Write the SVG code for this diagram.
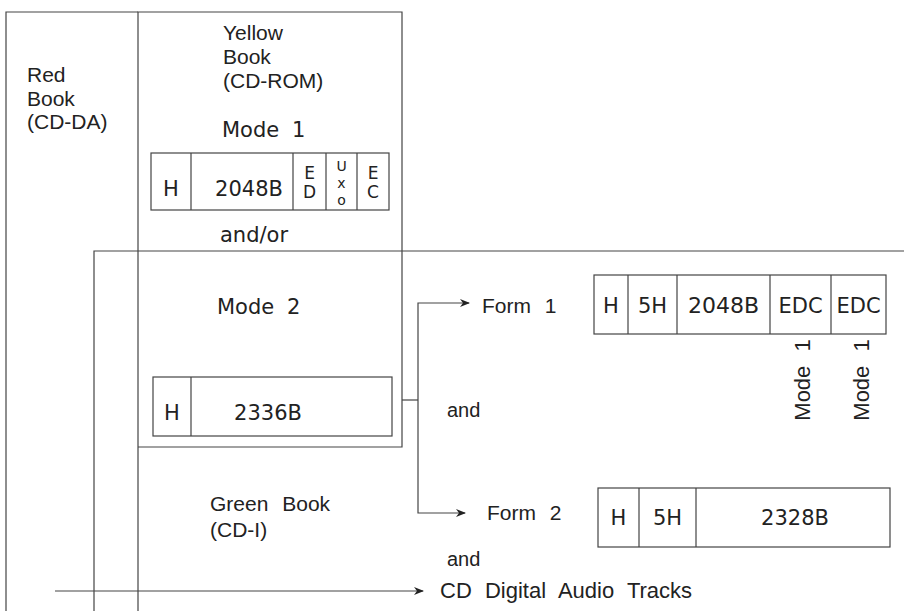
<svg xmlns="http://www.w3.org/2000/svg" width="904" height="611" viewBox="0 0 904 611">
<style>
  .ln{stroke:#444;stroke-width:1.2;fill:none}
  .bx{stroke:#444;stroke-width:1.2;fill:none}
  .h{font-family:"Liberation Sans",Arial,sans-serif;fill:#222}
  .a{font-family:"DejaVu Sans","Liberation Sans",sans-serif;fill:#222}
</style>
<defs>
  <marker id="arr" markerWidth="10" markerHeight="8" refX="9" refY="4" orient="auto" markerUnits="userSpaceOnUse">
    <path d="M0,0 L10,4 L0,8 L3,4 z" fill="#222"/>
  </marker>
</defs>
<rect width="904" height="611" fill="#fff"/>

<g id="red-book">
  <path class="ln" d="M6,611 V12 H138"/>
  <text class="h" font-size="21" x="27" y="82">Red</text>
  <text class="h" font-size="21" x="27" y="106">Book</text>
  <text class="h" font-size="21" x="27" y="129">(CD-DA)</text>
</g>

<g id="yellow-book">
  <path class="ln" d="M138,611 V12 H402 V447 H138"/>
  <text class="h" font-size="21" x="223" y="40">Yellow</text>
  <text class="h" font-size="21" x="223" y="64">Book</text>
  <text class="h" font-size="21" x="223" y="88">(CD-ROM)</text>
  <text class="a" font-size="21" x="222" y="137" word-spacing="6">Mode 1</text>
  <text class="a" font-size="21" x="220" y="242">and/or</text>
  <text class="a" font-size="21" x="217" y="314" word-spacing="6">Mode 2</text>
</g>

<g id="mode1-packet">
  <rect class="bx" x="151" y="153" width="238" height="57"/>
  <path class="ln" d="M191,153 V210 M293,153 V210 M326,153 V210 M357,153 V210"/>
  <text class="a" font-size="21" x="171" y="196" text-anchor="middle">H</text>
  <text class="a" font-size="21" x="249" y="196" text-anchor="middle">2048B</text>
  <text class="a" font-size="17" x="309.5" y="179" text-anchor="middle">E</text>
  <text class="a" font-size="17" x="309.5" y="198" text-anchor="middle">D</text>
  <text class="a" font-size="14" x="341.5" y="171" text-anchor="middle">U</text>
  <text class="a" font-size="14" x="341.5" y="188" text-anchor="middle">x</text>
  <text class="a" font-size="14" x="341.5" y="205" text-anchor="middle">o</text>
  <text class="a" font-size="17" x="373" y="179" text-anchor="middle">E</text>
  <text class="a" font-size="17" x="373" y="198" text-anchor="middle">C</text>
</g>

<g id="mode2-packet">
  <rect class="bx" x="153" y="377" width="239" height="59"/>
  <path class="ln" d="M191,377 V436"/>
  <text class="a" font-size="21" x="172" y="420" text-anchor="middle">H</text>
  <text class="a" font-size="21" x="268" y="420" text-anchor="middle">2336B</text>
</g>

<g id="green-book">
  <path class="ln" d="M94,611 V251 H904"/>
  <text class="h" font-size="21" x="210" y="511" word-spacing="8">Green Book</text>
  <text class="h" font-size="21" x="210" y="537">(CD-I)</text>
</g>

<g id="form1">
  <text class="h" font-size="21" x="482" y="313" word-spacing="8">Form 1</text>
  <rect class="bx" x="594" y="275" width="292" height="59"/>
  <path class="ln" d="M628,275 V334 M677,275 V334 M770,275 V334 M831,275 V334"/>
  <text class="a" font-size="21" x="611" y="313" text-anchor="middle">H</text>
  <text class="a" font-size="21" x="652.5" y="313" text-anchor="middle">5H</text>
  <text class="a" font-size="22" x="723.5" y="313" text-anchor="middle">2048B</text>
  <text class="a" font-size="21" x="800.5" y="313" text-anchor="middle">EDC</text>
  <text class="a" font-size="21" x="858.5" y="313" text-anchor="middle">EDC</text>
  <text class="h" font-size="22" transform="translate(810,380) rotate(-90)" text-anchor="middle" word-spacing="8">Mode 1</text>
  <text class="h" font-size="22" transform="translate(869,380) rotate(-90)" text-anchor="middle" word-spacing="8">Mode 1</text>
</g>

<g id="form2">
  <text class="h" font-size="21" x="487" y="520" word-spacing="8">Form 2</text>
  <rect class="bx" x="598" y="488" width="292" height="59"/>
  <path class="ln" d="M639,488 V547 M696,488 V547"/>
  <text class="a" font-size="21" x="618.5" y="525" text-anchor="middle">H</text>
  <text class="a" font-size="21" x="667.5" y="525" text-anchor="middle">5H</text>
  <text class="a" font-size="21" x="795" y="525" text-anchor="middle">2328B</text>
</g>

<g id="labels">
  <text class="h" font-size="20" x="447" y="417">and</text>
  <text class="h" font-size="20" x="447" y="566">and</text>
  <text class="h" font-size="22" x="440" y="598" word-spacing="7">CD Digital Audio Tracks</text>
</g>

<g id="connectors">
  <path class="ln" d="M402,400 H418"/>
  <path class="ln" d="M418,400 V303 H469" marker-end="url(#arr)"/>
  <path class="ln" d="M418,400 V513 H465" marker-end="url(#arr)"/>
  <path class="ln" d="M55,591 H423" marker-end="url(#arr)"/>
</g>
</svg>
